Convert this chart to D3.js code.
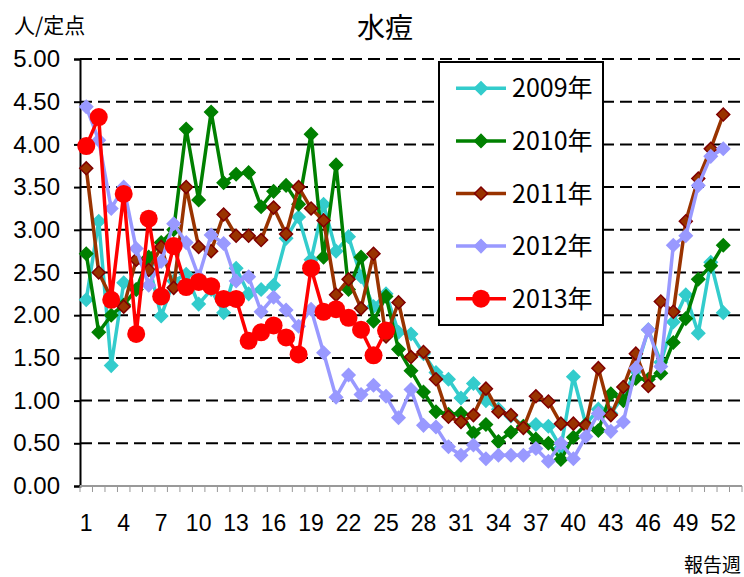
<!DOCTYPE html>
<html lang="ja">
<head>
  <meta charset="UTF-8">
  <title>水痘</title>
  <script src="https://d3js.org/d3.v7.min.js"></script>
  <style>
    body { margin: 0; background: #fff; }
    text { font-family: "Liberation Sans", Arial, sans-serif; fill: #000; }
    .jp { font-family: "Noto Sans CJK JP", sans-serif; }
  </style>
</head>
<body>
  <script>
    // weeks 1..53 on the category axis, data for 52 weeks
    const weeks = d3.range(1, 54);
    const weekLabels = [1, 4, 7, 10, 13, 16, 19, 22, 25, 28, 31, 34, 37, 40, 43, 46, 49, 52];
    const yTicks = [0, 0.5, 1, 1.5, 2, 2.5, 3, 3.5, 4, 4.5, 5];

    const years = ["2009年", "2010年", "2011年", "2012年", "2013年"];

    const v2009 = [2.18, 3.10, 1.41, 2.38, 2.30, 2.60, 1.99, 2.40, 2.48, 2.13,
      2.30, 2.03, 2.55, 2.25, 2.30, 2.35, 2.90, 3.15, 2.65, 3.30,
      2.75, 2.92, 2.45, 2.10, 2.25, 1.80, 1.78, 1.55, 1.33, 1.25,
      1.03, 1.20, 1.00, 0.90, 0.82, 0.70, 0.72, 0.70, 0.45, 1.28,
      0.72, 0.90, 0.85, 1.05, 1.35, 1.83, 1.45, 1.92, 2.24, 1.79,
      2.62, 2.03];
    const v2010 = [2.72, 1.80, 2.00, 2.12, 2.30, 2.68, 2.85, 3.00, 4.18, 3.35,
      4.38, 3.55, 3.65, 3.67, 3.27, 3.45, 3.52, 3.30, 4.12, 2.68,
      3.76, 2.30, 2.68, 1.93, 2.22, 1.60, 1.35, 1.10, 0.87, 0.84,
      0.85, 0.62, 0.72, 0.52, 0.63, 0.70, 0.55, 0.50, 0.31, 0.57,
      0.72, 0.65, 1.08, 1.00, 1.26, 1.25, 1.32, 1.68, 1.96, 2.42,
      2.58, 2.82];
    const v2011 = [3.72, 2.50, 2.20, 2.10, 2.65, 2.53, 2.80, 2.32, 3.50, 2.80,
      2.75, 3.18, 2.93, 2.93, 2.88, 3.26, 2.95, 3.50, 3.25, 3.11,
      2.24, 2.42, 2.08, 2.72, 1.75, 2.15, 1.51, 1.57, 1.25, 0.81,
      0.75, 0.83, 1.14, 0.87, 0.83, 0.68, 1.05, 0.99, 0.73, 0.73,
      0.71, 1.38, 0.83, 1.16, 1.55, 1.17, 2.16, 2.04, 3.10, 3.60,
      3.95, 4.35];
    const v2012 = [4.44, 4.05, 3.25, 3.50, 2.78, 2.35, 2.63, 3.07, 2.85, 2.45,
      2.94, 2.84, 2.40, 2.45, 2.04, 2.21, 2.06, 1.87, 2.07, 1.56,
      1.04, 1.30, 1.07, 1.18, 1.05, 0.80, 1.13, 0.71, 0.69, 0.46,
      0.36, 0.48, 0.32, 0.36, 0.36, 0.36, 0.44, 0.29, 0.50, 0.32,
      0.58, 0.85, 0.64, 0.75, 1.38, 1.83, 1.40, 2.82, 2.93, 3.52,
      3.86, 3.95];
    const v2013 = [3.98, 4.32, 2.18, 3.42, 1.78, 3.13, 2.22, 2.81, 2.33, 2.39,
      2.34, 2.19, 2.19, 1.70, 1.80, 1.88, 1.74, 1.54, 2.55, 2.04,
      2.07, 1.97, 1.83, 1.53, 1.82];

    const seriesValues = [v2009, v2010, v2011, v2012, v2013];
    const colors = ["#33CCCC", "#008000", "#993300", "#9999FF", "#FF0000"];

    const width = 744, height = 577;
    const margin = { left: 80, right: 2, top: 59, bottom: 91 };

    const svg = d3.select("body").append("svg")
      .attr("width", width)
      .attr("height", height);

    const x = d3.scaleBand()
      .domain(weeks)
      .range([margin.left, width - margin.right])
      .padding(0);

    const y = d3.scaleLinear()
      .domain([0, 5])
      .range([height - margin.bottom, margin.top]);

    const cx = w => x(w) + x.bandwidth() / 2;

    // dashed gridlines
    svg.append("g")
      .selectAll("line")
      .data(yTicks.filter(t => t > 0))
      .enter().append("line")
      .attr("x1", margin.left)
      .attr("x2", width - margin.right)
      .attr("y1", d => y(d))
      .attr("y2", d => y(d))
      .attr("stroke", "#000")
      .attr("stroke-width", 2)
      .attr("stroke-dasharray", "12,6");

    // y axis
    const yAxis = svg.append("g")
      .attr("transform", "translate(" + margin.left + ",0)")
      .call(d3.axisLeft(y).tickValues(yTicks).tickFormat(d3.format(".2f")).tickSize(6).tickPadding(14));
    yAxis.select(".domain").attr("stroke", "#000").attr("stroke-width", 2);
    yAxis.selectAll(".tick line").attr("stroke", "#000").attr("stroke-width", 2);
    yAxis.selectAll("text")
      .style("font-size", "24px")
      .style("font-family", "Liberation Sans, Arial, sans-serif")
      .attr("fill", "#000");

    // x axis: gray line, minor ticks between categories
    const xBase = y(0);
    svg.append("line")
      .attr("x1", margin.left)
      .attr("x2", width - margin.right)
      .attr("y1", xBase)
      .attr("y2", xBase)
      .attr("stroke", "#999")
      .attr("stroke-width", 2);

    svg.append("g")
      .selectAll("line")
      .data(weeks.concat([54]))
      .enter().append("line")
      .attr("x1", d => d <= 53 ? x(d) : width - margin.right)
      .attr("x2", d => d <= 53 ? x(d) : width - margin.right)
      .attr("y1", xBase)
      .attr("y2", xBase + 6)
      .attr("stroke", "#999")
      .attr("stroke-width", 1);

    svg.append("g")
      .selectAll("text")
      .data(weekLabels)
      .enter().append("text")
      .attr("x", d => cx(d))
      .attr("y", xBase + 45)
      .attr("text-anchor", "middle")
      .style("font-size", "23px")
      .text(d => d);

    // series lines + markers
    const line = d3.line()
      .x((d, i) => cx(i + 1))
      .y(d => y(d));

    const diamond = d3.symbol().type(d3.symbolSquare).size(84);

    seriesValues.forEach(function (vals, s) {
      const g = svg.append("g");
      g.append("path")
        .datum(vals)
        .attr("d", line)
        .attr("fill", "none")
        .attr("stroke", colors[s])
        .attr("stroke-width", 3.5)
        .attr("stroke-linejoin", "round");

      if (s < 4) {
        g.selectAll("path.m")
          .data(vals)
          .enter().append("path")
          .attr("class", "m")
          .attr("d", diamond)
          .attr("transform", (d, i) => "translate(" + cx(i + 1) + "," + y(d) + ") rotate(45)")
          .attr("fill", colors[s])
          .attr("stroke", s === 2 ? "#800000" : colors[s])
          .attr("stroke-width", 1.5);
      } else {
        g.selectAll("circle")
          .data(vals)
          .enter().append("circle")
          .attr("cx", (d, i) => cx(i + 1))
          .attr("cy", d => y(d))
          .attr("r", 9)
          .attr("fill", colors[s]);
      }
    });

    // legend
    const legend = svg.append("g")
      .attr("transform", "translate(439,62)");
    legend.append("rect")
      .attr("width", 164)
      .attr("height", 263)
      .attr("fill", "#fff")
      .attr("stroke", "#000")
      .attr("stroke-width", 2);

    const item = legend.selectAll("g.item")
      .data(years)
      .enter().append("g")
      .attr("class", "item")
      .attr("transform", (d, i) => "translate(0," + (26.3 + i * 52.6) + ")");

    item.append("line")
      .attr("x1", 17)
      .attr("x2", 67)
      .attr("stroke", (d, i) => colors[i])
      .attr("stroke-width", 3.5);

    item.each(function (d, i) {
      const el = d3.select(this);
      if (i < 4) {
        el.append("path")
          .attr("d", diamond)
          .attr("transform", "translate(42,0) rotate(45)")
          .attr("fill", colors[i])
          .attr("stroke", i === 2 ? "#800000" : colors[i])
          .attr("stroke-width", 1.5);
      } else {
        el.append("circle")
          .attr("cx", 42)
          .attr("r", 9)
          .attr("fill", colors[i]);
      }
    });

    item.append("text")
      .attr("class", "jp")
      .attr("x", 73)
      .attr("dy", "0.36em")
      .style("font-size", "25px")
      .text(d => d);

    // title and axis titles
    svg.append("text")
      .attr("class", "jp")
      .attr("x", 385)
      .attr("y", 38)
      .attr("text-anchor", "middle")
      .style("font-size", "28px")
      .text("水痘");

    svg.append("text")
      .attr("class", "jp")
      .attr("x", 14)
      .attr("y", 33)
      .style("font-size", "21px")
      .text("人/定点");

    svg.append("text")
      .attr("class", "jp")
      .attr("x", 741)
      .attr("y", 572)
      .attr("text-anchor", "end")
      .style("font-size", "19px")
      .text("報告週");
  </script>
</body>
</html>
